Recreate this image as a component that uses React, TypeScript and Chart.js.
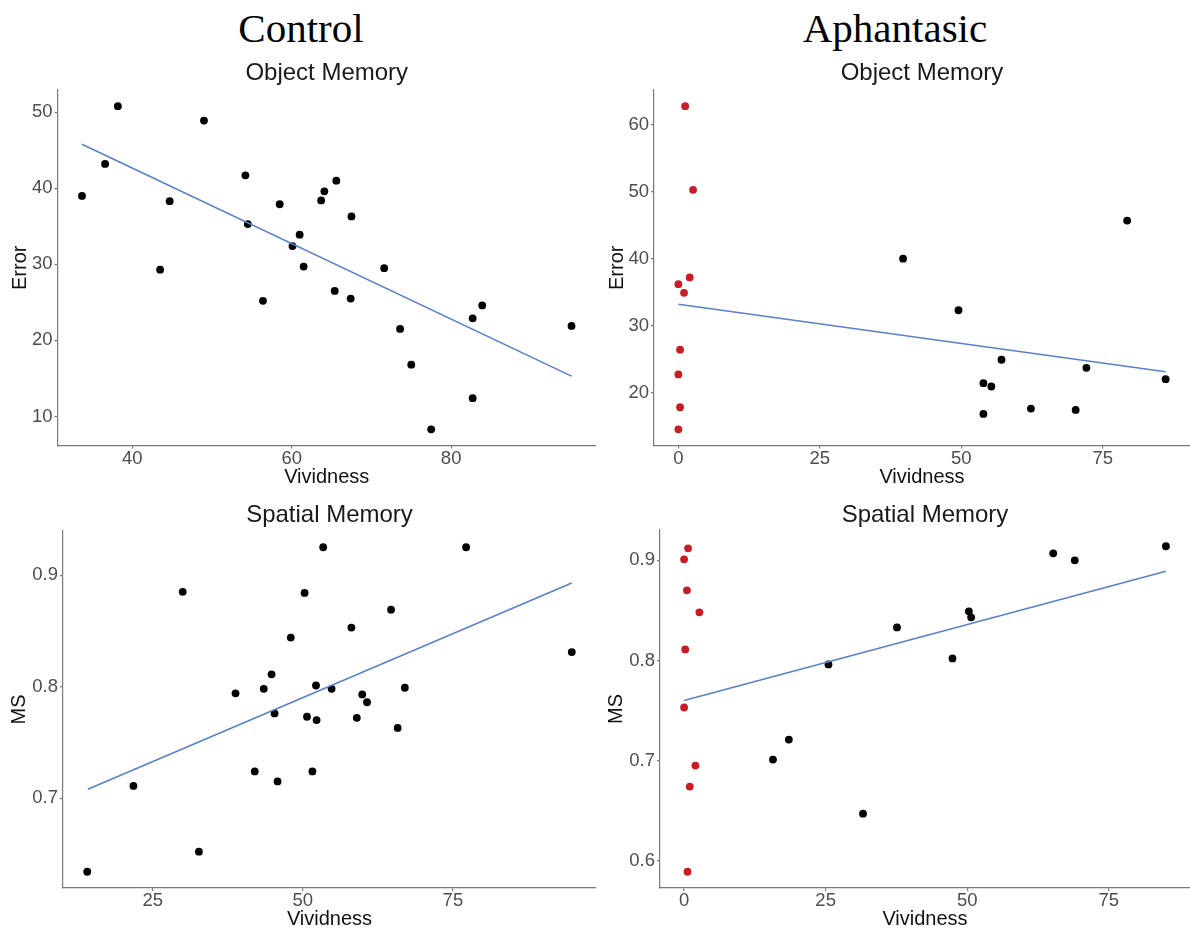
import React, { useEffect, useRef } from 'react';
import { Chart, registerables } from 'chart.js';

Chart.register(...registerables);

// ---------- Data ----------
// Control – Object Memory
const ctrlObjVividness = [33.7, 36.6, 38.2, 43.5, 44.7, 49.0, 54.2, 54.5, 56.4, 58.5, 60.1, 61.0, 61.5, 63.7, 64.1, 65.6, 65.4, 67.5, 67.4, 71.6, 73.6, 75.0, 77.5, 82.7, 83.9, 82.7, 95.1];
const ctrlObjError = [39.0, 43.2, 50.8, 29.3, 38.3, 48.9, 41.7, 35.3, 25.2, 37.9, 32.4, 33.9, 29.7, 38.4, 39.6, 41.0, 26.5, 36.3, 25.5, 29.5, 21.5, 16.8, 8.3, 22.9, 24.6, 12.4, 21.9];
const ctrlObjFitX = [33.7, 95.1];
const ctrlObjFitY = [45.8, 15.3];

// Aphantasic – Object Memory
const aphObjRedVividness = [1.2, 2.6, 2.0, 0, 1.0, 0.3, 0, 0.3, 0];
const aphObjRedError = [62.8, 50.3, 37.2, 36.2, 34.9, 26.4, 22.7, 17.8, 14.5];
const aphObjVividness = [39.7, 49.5, 57.1, 53.9, 55.3, 53.9, 62.3, 70.2, 72.1, 79.3, 86.1];
const aphObjError = [40.0, 32.3, 24.9, 21.4, 20.9, 16.8, 17.6, 17.4, 23.7, 45.7, 22.0];
const aphObjFitX = [0, 86.1];
const aphObjFitY = [33.2, 23.1];

// Control – Spatial Memory
const ctrlSpaVividness = [14.1, 21.8, 30.0, 32.7, 38.8, 42.0, 43.5, 44.8, 45.3, 45.8, 48.0, 50.3, 50.7, 51.6, 52.2, 52.3, 53.4, 54.8, 58.1, 59.0, 59.9, 60.7, 64.7, 65.8, 67.0, 77.2, 94.8];
const ctrlSpaMS = [0.634, 0.711, 0.885, 0.652, 0.794, 0.724, 0.798, 0.811, 0.776, 0.715, 0.844, 0.884, 0.773, 0.724, 0.801, 0.770, 0.925, 0.798, 0.853, 0.772, 0.793, 0.786, 0.869, 0.763, 0.799, 0.925, 0.831];
const ctrlSpaFitX = [14.2, 94.8];
const ctrlSpaFitY = [0.708, 0.893];

// Aphantasic – Spatial Memory
const aphSpaRedVividness = [0.7, 0, 0.5, 2.7, 0.2, 0, 2.0, 1.0, 0.6];
const aphSpaRedMS = [0.912, 0.901, 0.870, 0.848, 0.811, 0.753, 0.695, 0.674, 0.589];
const aphSpaVividness = [15.7, 18.5, 25.5, 31.6, 37.6, 47.4, 50.3, 50.7, 65.2, 69.0, 85.1];
const aphSpaMS = [0.701, 0.721, 0.796, 0.647, 0.833, 0.802, 0.849, 0.843, 0.907, 0.900, 0.914];
const aphSpaFitX = [0, 85.1];
const aphSpaFitY = [0.760, 0.889];

// Tick labels
const xTicksCtrlObj = [40, 60, 80];
const yTicksCtrlObj = [10, 20, 30, 40, 50];
const xTicksAphObj = [0, 25, 50, 75];
const yTicksAphObj = [20, 30, 40, 50, 60];
const xTicksCtrlSpa = [25, 50, 75];
const yTicksCtrlSpa = [0.7, 0.8, 0.9];
const xTicksAphSpa = [0, 25, 50, 75];
const yTicksAphSpa = [0.6, 0.7, 0.8, 0.9];

const groupTitles = ['Control', 'Aphantasic'];
const panelTitles = ['Object Memory', 'Object Memory', 'Spatial Memory', 'Spatial Memory'];
const xAxisTitle = 'Vividness';
const yAxisTitles = ['Error', 'Error', 'MS', 'MS'];

// ---------- Styling / layout ----------
const SANS = '"Liberation Sans", Arial, sans-serif';
const SERIF = '"Liberation Serif", "Times New Roman", serif';
const AXIS_COLOR = '#7a7a7a';
const TICK_COLOR = '#4d4d4d';
const FIT_COLOR = '#5b7fd0';
const RED = '#c91d26';

type Geo = {
  canvas: { left: number; top: number; width: number; height: number };
  area: { left: number; top: number; right: number; bottom: number };
  titleBaseline: number;
  yTitleX: number;
  xTitleY: number;
};

const layouts: Geo[] = [
  { canvas: { left: 0, top: 50, width: 600, height: 440 }, area: { left: 57.5, top: 90, right: 596, bottom: 445.5 }, titleBaseline: 80, yTitleX: 20, xTitleY: 477.5 },
  { canvas: { left: 600, top: 50, width: 590, height: 440 }, area: { left: 654, top: 90, right: 1190, bottom: 445.5 }, titleBaseline: 80, yTitleX: 617, xTitleY: 477.5 },
  { canvas: { left: 0, top: 490, width: 600, height: 441 }, area: { left: 63, top: 531, right: 596, bottom: 888 }, titleBaseline: 522, yTitleX: 19, xTitleY: 919 },
  { canvas: { left: 600, top: 490, width: 590, height: 441 }, area: { left: 660, top: 530, right: 1190, bottom: 888 }, titleBaseline: 522, yTitleX: 616.5, xTitleY: 919 },
];

type PanelData = {
  bx: number[]; by: number[];
  rx: number[]; ry: number[];
  fx: number[]; fy: number[];
  xt: number[]; yt: number[];
};

const panels: PanelData[] = [
  { bx: ctrlObjVividness, by: ctrlObjError, rx: [], ry: [], fx: ctrlObjFitX, fy: ctrlObjFitY, xt: xTicksCtrlObj, yt: yTicksCtrlObj },
  { bx: aphObjVividness, by: aphObjError, rx: aphObjRedVividness, ry: aphObjRedError, fx: aphObjFitX, fy: aphObjFitY, xt: xTicksAphObj, yt: yTicksAphObj },
  { bx: ctrlSpaVividness, by: ctrlSpaMS, rx: [], ry: [], fx: ctrlSpaFitX, fy: ctrlSpaFitY, xt: xTicksCtrlSpa, yt: yTicksCtrlSpa },
  { bx: aphSpaVividness, by: aphSpaMS, rx: aphSpaRedVividness, ry: aphSpaRedMS, fx: aphSpaFitX, fy: aphSpaFitY, xt: xTicksAphSpa, yt: yTicksAphSpa },
];

const zip = (xs: number[], ys: number[]) => xs.map((x, i) => ({ x, y: ys[i] }));

// ggplot-style 5% expansion of the data range
const expand = (vals: number[]) => {
  const mn = Math.min(...vals);
  const mx = Math.max(...vals);
  const d = (mx - mn) * 0.05;
  return { min: mn - d, max: mx + d };
};

const panelTitlePlugin = {
  id: 'panelTitle',
  afterDraw(chart: any, _args: any, opts: any) {
    const { ctx, chartArea } = chart;
    ctx.save();
    ctx.font = `24px ${SANS}`;
    ctx.fillStyle = '#1a1a1a';
    ctx.textAlign = 'center';
    ctx.textBaseline = 'alphabetic';
    ctx.fillText(opts.text, (chartArea.left + chartArea.right) / 2, opts.baseline);
    ctx.restore();
  },
};

function buildConfig(i: number): any {
  const p = panels[i];
  const g = layouts[i];
  const c = g.canvas;
  const xr = expand([...p.bx, ...p.rx]);
  const yr = expand([...p.by, ...p.ry]);
  const yAxisWidth = g.area.left - c.left;
  const xAxisHeight = c.top + c.height - g.area.bottom;
  const titleLH = 24;

  const datasets: any[] = [
    {
      type: 'line',
      data: zip(p.fx, p.fy),
      borderColor: FIT_COLOR,
      borderWidth: 1.6,
      pointRadius: 0,
      fill: false,
      tension: 0,
    },
    {
      type: 'scatter',
      data: zip(p.bx, p.by),
      backgroundColor: '#000000',
      borderWidth: 0,
      pointRadius: 3.9,
    },
  ];
  if (p.rx.length) {
    datasets.push({
      type: 'scatter',
      data: zip(p.rx, p.ry),
      backgroundColor: RED,
      borderWidth: 0,
      pointRadius: 3.9,
    });
  }

  return {
    type: 'scatter',
    data: { datasets },
    plugins: [panelTitlePlugin],
    options: {
      animation: false,
      responsive: false,
      events: [],
      layout: {
        autoPadding: false,
        padding: {
          top: g.area.top - c.top,
          right: c.left + c.width - g.area.right,
          left: 0,
          bottom: 0,
        },
      },
      plugins: {
        legend: { display: false },
        tooltip: { enabled: false },
        title: { display: false },
        panelTitle: { text: panelTitles[i], baseline: g.titleBaseline - c.top },
      },
      scales: {
        x: {
          type: 'linear',
          min: xr.min,
          max: xr.max,
          afterBuildTicks: (axis: any) => {
            axis.ticks = p.xt.map((v) => ({ value: v }));
          },
          afterFit: (axis: any) => {
            axis.height = xAxisHeight;
          },
          ticks: {
            color: TICK_COLOR,
            font: { family: SANS, size: 18.5, lineHeight: 1 },
            padding: 1,
            maxRotation: 0,
            autoSkip: false,
            callback: (v: any) => String(v),
          },
          grid: { display: true, drawOnChartArea: false, drawTicks: true, tickLength: 3, color: AXIS_COLOR, lineWidth: 1.2 },
          border: { display: true, color: AXIS_COLOR, width: 1.2 },
          title: {
            display: true,
            text: xAxisTitle,
            color: '#111',
            font: { family: SANS, size: 20, lineHeight: 1.2 },
            padding: { top: 0, bottom: c.top + c.height - g.xTitleY - titleLH / 2 },
          },
        },
        y: {
          type: 'linear',
          min: yr.min,
          max: yr.max,
          afterBuildTicks: (axis: any) => {
            axis.ticks = p.yt.map((v) => ({ value: v }));
          },
          afterFit: (axis: any) => {
            axis.width = yAxisWidth;
          },
          ticks: {
            color: TICK_COLOR,
            font: { family: SANS, size: 18.5, lineHeight: 1 },
            padding: 2,
            autoSkip: false,
            callback: (v: any) => String(v),
          },
          grid: { display: true, drawOnChartArea: false, drawTicks: true, tickLength: 3, color: AXIS_COLOR, lineWidth: 1.2 },
          border: { display: true, color: AXIS_COLOR, width: 1.2 },
          title: {
            display: true,
            text: yAxisTitles[i],
            color: '#111',
            font: { family: SANS, size: 20, lineHeight: 1.2 },
            padding: { top: g.yTitleX - c.left - titleLH / 2, bottom: 0 },
          },
        },
      },
    },
  };
}

function Panel({ index }: { index: number }) {
  const ref = useRef<HTMLCanvasElement | null>(null);
  useEffect(() => {
    if (!ref.current) return;
    const chart = new Chart(ref.current, buildConfig(index));
    return () => chart.destroy();
  }, [index]);
  const c = layouts[index].canvas;
  return (
    <canvas
      ref={ref}
      width={c.width}
      height={c.height}
      style={{ position: 'absolute', left: c.left, top: c.top, width: c.width, height: c.height, display: 'block' }}
    />
  );
}

export default function App() {
  const groupCenters = [301, 895];
  return (
    <div style={{ position: 'absolute', left: 0, top: 0, width: 1190, height: 931, background: '#ffffff', overflow: 'hidden' }}>
      {groupTitles.map((t, i) => (
        <div
          key={t}
          style={{
            position: 'absolute',
            left: groupCenters[i] - 200,
            width: 400,
            top: 8,
            textAlign: 'center',
            fontFamily: SERIF,
            fontSize: 41,
            lineHeight: '41px',
            color: '#000',
          }}
        >
          {t}
        </div>
      ))}
      {panels.map((_, i) => (
        <Panel key={i} index={i} />
      ))}
    </div>
  );
}
